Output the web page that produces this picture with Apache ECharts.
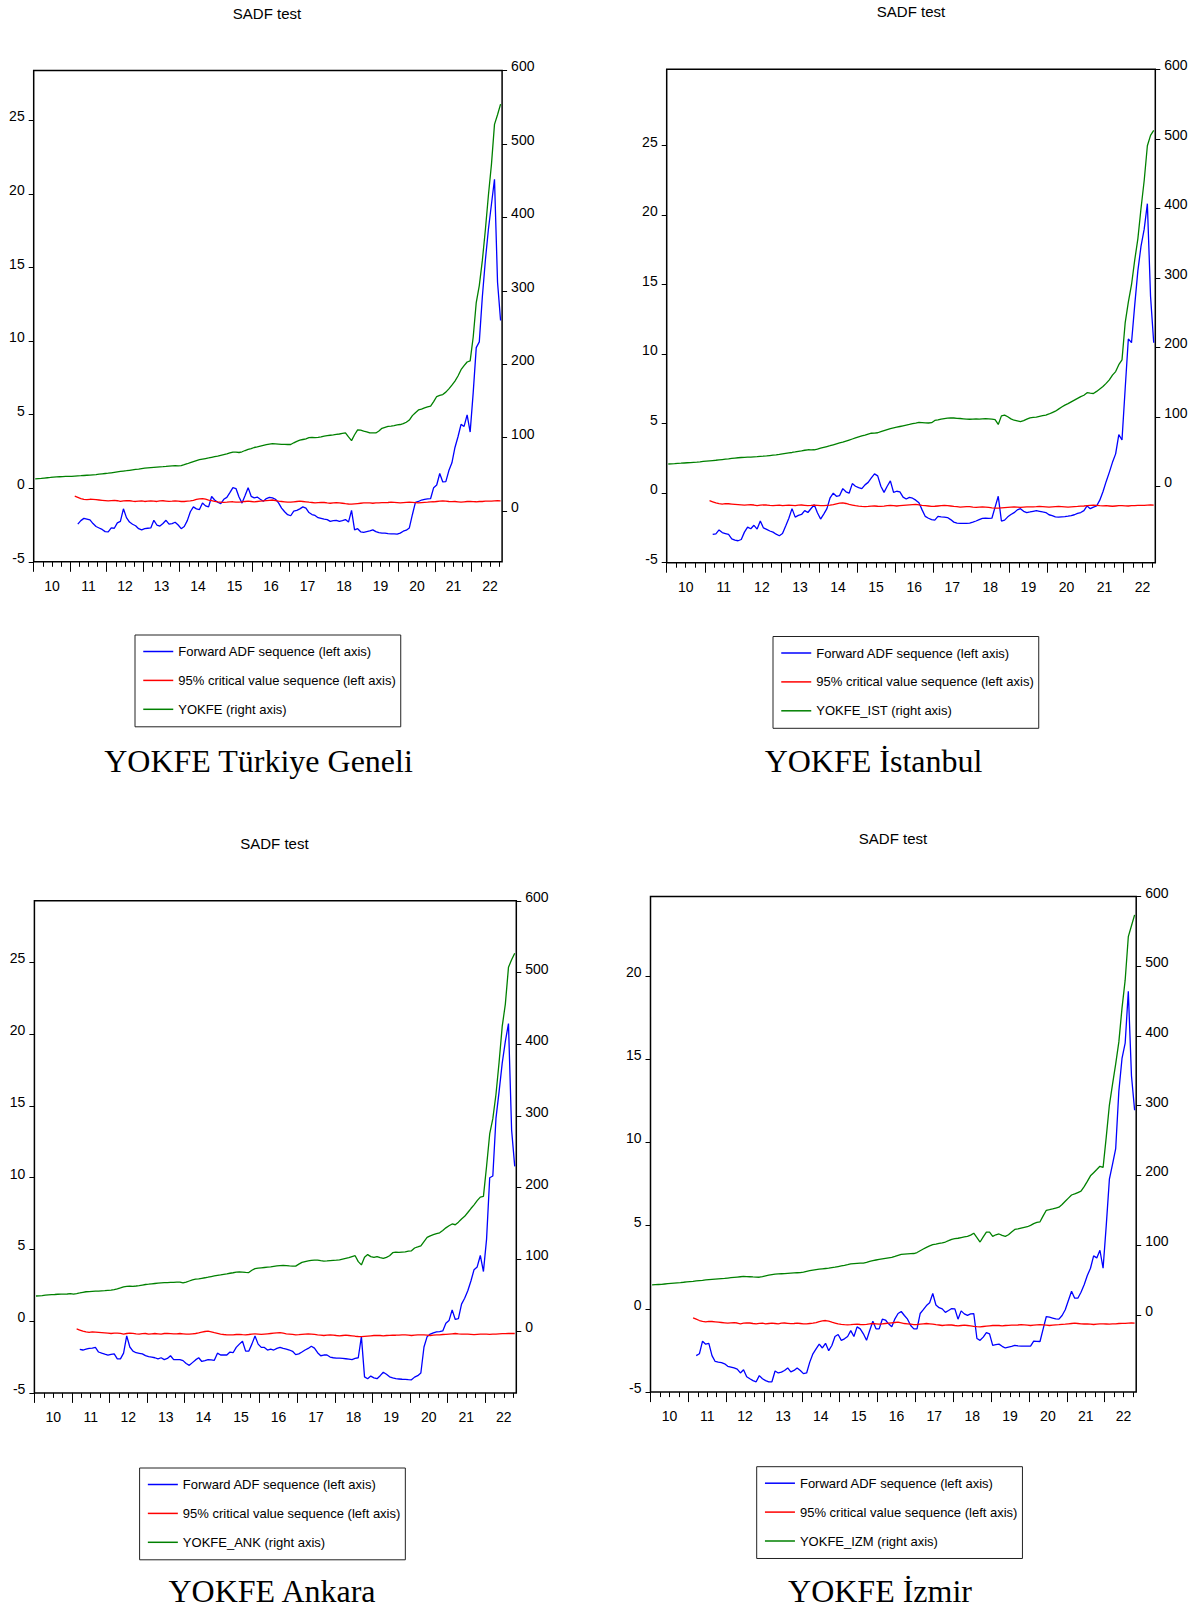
<!DOCTYPE html>
<html>
<head>
<meta charset="utf-8">
<script src="https://cdn.jsdelivr.net/npm/echarts@6/dist/echarts.min.js"></script>
<style>html,body{margin:0;padding:0;background:#fff}#chart{width:1202px;height:1609px}</style>
</head>
<body>
<div id="chart"></div>
<script>
// ---- time frame: monthly, 2010M01 .. 2022M10 (154 months) ----
const firstYear = 2010;
const nMonths = 154;
const yearLabels = ['10','11','12','13','14','15','16','17','18','19','20','21','22'];
const leftTicks = [-5, 0, 5, 10, 15, 20, 25];
const leftTicksIzm = [-5, 0, 5, 10, 15, 20];
const rightTicks = [0, 100, 200, 300, 400, 500, 600];
const adfStart = 14;  // first Forward ADF value: 2011M03
const cvStart = 13;   // first critical value: 2011M02

// 95% critical value sequence (same in all four panels)
const cv95 = [
 -0.54,-0.62,-0.7,-0.75,-0.78,-0.75,-0.76,-0.78,-0.8,-0.82,
 -0.84,-0.86,-0.84,-0.83,-0.85,-0.9,-0.86,-0.84,-0.85,-0.88,
 -0.9,-0.87,-0.86,-0.9,-0.88,-0.86,-0.88,-0.9,-0.86,-0.85,
 -0.87,-0.89,-0.88,-0.86,-0.88,-0.9,-0.9,-0.88,-0.86,-0.82,
 -0.76,-0.72,-0.7,-0.74,-0.8,-0.85,-0.9,-0.93,-0.95,-0.96,
 -0.95,-0.93,-0.92,-0.94,-0.95,-0.93,-0.9,-0.88,-0.9,-0.92,
 -0.9,-0.88,-0.86,-0.84,-0.82,-0.8,-0.84,-0.88,-0.9,-0.92,
 -0.95,-0.94,-0.92,-0.9,-0.88,-0.9,-0.92,-0.95,-0.97,-1.0,
 -0.98,-0.96,-0.97,-1.0,-1.02,-1.0,-0.98,-1.0,-1.02,-1.05,
 -1.07,-1.08,-1.06,-1.04,-1.02,-1.0,-0.99,-1.0,-1.02,-1.0,
 -0.99,-0.98,-0.98,-0.97,-0.95,-0.96,-0.98,-1.0,-0.98,-0.96,
 -0.95,-0.96,-0.98,-1.0,-0.98,-0.96,-0.95,-0.93,-0.92,-0.9,
 -0.88,-0.86,-0.88,-0.9,-0.91,-0.9,-0.92,-0.94,-0.92,-0.9,
 -0.9,-0.91,-0.92,-0.9,-0.9,-0.88,-0.87,-0.87,-0.86,-0.85,
 -0.86
];

// ---- Türkiye Geneli ----
const yokfeTR = [
 44,44.3,44.6,45,45.4,45.8,46.4,46.6,46.8,47,
 47.2,47.3,47.4,47.7,48,48.2,48.5,48.8,49,49.4,
 49.8,50.3,50.8,51.2,51.6,52.2,52.8,53.4,54,54.5,
 55,55.6,56.2,56.8,57.3,57.9,58.4,58.8,59.2,59.6,
 60,60.3,60.5,60.8,61.2,61.5,61.8,61.5,62,63.2,
 64.5,66,67.4,68.8,70,70.8,71.6,72.4,73.3,74.2,
 75,76,77,78,79.2,80.3,80.3,79.8,80.8,82.5,
 84,85,86.6,87.5,88.5,89.5,90.5,91.3,91.8,91.6,
 91.3,91,90.8,90.7,90.7,93,95,96.5,97.5,98.5,
 100,100.3,100.1,100.5,101,102,102.8,103.3,103.8,104.4,
 105,105.8,106.4,101,96,104,110.6,110.3,109,108,
 106.4,106.5,106.4,109,112.7,114,115.3,115.8,116.5,117.3,
 117.9,119,121,124,130,134,137.7,139,140.5,141.8,
 143,149,156,157.5,158.6,162,166.4,171.5,177,184,
 192.5,198,203,204.5,237,284,307,341,383,430,
 472,526.5,539.6,554
];
const adfTR = [
 -2.44,-2.2,-2.05,-2.1,-2.15,-2.4,-2.6,-2.7,-2.8,-2.95,
 -2.96,-2.7,-2.72,-2.35,-2.25,-1.4,-2.0,-2.3,-2.45,-2.55,
 -2.75,-2.83,-2.75,-2.72,-2.7,-2.18,-2.5,-2.57,-2.4,-2.18,
 -2.44,-2.4,-2.31,-2.5,-2.75,-2.6,-2.2,-1.6,-1.27,-1.4,
 -1.45,-1.01,-1.2,-1.27,-0.56,-0.8,-0.95,-1.05,-0.75,-0.62,
 -0.3,0.04,-0.02,-0.6,-1.01,-0.5,0.04,-0.55,-0.65,-0.6,
 -0.75,-0.88,-0.7,-0.62,-0.65,-0.75,-1.0,-1.35,-1.6,-1.8,
 -1.87,-1.55,-1.5,-1.4,-1.27,-1.35,-1.65,-1.79,-1.85,-2.0,
 -2.05,-2.1,-2.13,-2.25,-2.2,-2.18,-2.25,-2.2,-2.13,-2.3,
 -1.5,-2.83,-2.75,-2.96,-3.0,-2.95,-2.9,-2.83,-2.95,-3.02,
 -3.05,-3.05,-3.08,-3.1,-3.1,-3.12,-3.05,-2.92,-2.85,-2.7,
 -1.8,-0.96,-0.9,-0.8,-0.75,-0.72,-0.7,0.04,0.22,1.0,
 0.43,0.45,1.2,1.73,2.77,3.5,4.34,4.2,4.99,3.82,
 6.5,9.56,9.95,13.0,15.5,17.6,19.3,21.0,14.0,11.4
];

// ---- İstanbul ----
const yokfeIST = [
 32,32.3,32.6,33,33.2,33.5,33.8,34.1,34.5,34.8,
 35.2,35.7,36.2,36.6,37,37.4,37.9,38.4,38.9,39.4,
 40,40.5,41,41.4,41.6,41.8,42,42.3,42.6,43,
 43.3,43.7,44.2,44.7,45.2,45.8,46.5,47.2,47.9,48.6,
 49.4,50.3,51,51.8,52.5,52.3,52.5,53.5,54.8,56,
 57.2,58.4,59.7,61,62.3,63.5,65,66.5,68,69.5,
 71,72.5,73.6,75,76.3,76.5,77,78.5,80,81.5,
 83,84,85,86,87,88,89,90.2,91,91.9,
 91.7,91.3,91,91.5,94.7,95.5,96.5,97.3,98,98.5,
 98.2,97.8,97.5,97,96.5,96.4,96.5,96.8,96.5,97,
 97.2,96.9,96.5,95.8,89,101.3,102.4,100,97,95,
 94,93,94.5,96.5,98.5,99,99.5,100.5,101.5,102.4,
 104,106,108,111,114,116.8,119,121.5,124,126.5,
 129,131,134.6,134,133.5,136.5,140,143.5,148,153,
 160,165,175,181.7,235,265,290,325,356,400,
 440,490,505,512
];
const adfIST = [
 -2.97,-2.92,-2.64,-2.83,-2.9,-2.97,-3.28,-3.38,-3.42,-3.33,
 -2.8,-2.44,-2.56,-2.31,-2.58,-2.0,-2.5,-2.6,-2.72,-2.8,
 -2.95,-3.06,-2.9,-2.36,-1.8,-1.11,-1.72,-1.6,-1.53,-1.25,
 -1.39,-1.1,-0.83,-1.4,-1.86,-1.5,-1.11,-0.33,0.0,-0.22,
 -0.17,0.33,0.1,0.0,0.69,0.5,0.4,0.33,0.6,0.78,
 1.1,1.39,1.25,0.5,0.06,0.5,0.89,0.06,0.14,0.1,
 -0.28,-0.42,-0.3,-0.36,-0.5,-0.69,-1.2,-1.67,-1.8,-1.9,
 -1.94,-1.67,-1.7,-1.72,-1.75,-1.9,-2.08,-2.15,-2.17,-2.17,
 -2.17,-2.15,-2.08,-2.0,-1.9,-1.81,-1.8,-1.81,-1.8,-1.0,
 -0.22,-2.0,-1.94,-1.7,-1.53,-1.4,-1.2,-1.11,-1.3,-1.39,
 -1.35,-1.3,-1.25,-1.3,-1.35,-1.39,-1.55,-1.61,-1.7,-1.72,
 -1.7,-1.68,-1.65,-1.61,-1.55,-1.45,-1.39,-1.25,-0.92,-1.11,
 -1.0,-0.92,-0.5,0.1,0.83,1.5,2.22,2.83,4.22,3.83,
 7.5,11.1,10.83,13.5,16.0,17.78,19.0,20.83,14.17,10.83
];

// ---- Ankara ----
const yokfeANK = [
 49.1,49.3,49.6,50.3,50.7,51,51.2,51.5,51.8,51.6,
 51.9,52.3,51.8,52.5,53.3,54.2,55,55.3,55.6,55.8,
 56,56.3,56.6,57,57.3,58,59,60.3,61.7,62.5,
 62.8,62.6,63,63.5,64.3,65.1,65.5,66,66.5,67,
 67.3,67.6,67.8,68,68.2,68.4,68.3,67.5,68.5,70,
 71.5,72.5,73.1,73.8,74.5,75.3,76.2,77,77.8,78.5,
 79.3,80,80.8,81.5,82.3,82.7,82.5,82,81.8,85,
 87.2,87.8,88.3,88.8,89.3,89.8,90.5,91,91.5,91.8,
 91.5,91,90.8,90.8,93.5,96,97,98,98.8,99.2,
 99,98.3,97.7,98,98.5,98.8,99,99.5,100.5,101.5,
 102.5,104,105.2,97,92.4,103,106.8,104,103,104.1,
 102.5,101.4,103,105.2,109.4,110.2,110,110.3,110.5,111.5,
 112.1,116,117.5,119.1,125,130.8,133,134.5,136,137.2,
 140.5,144.1,147,149.5,148.4,152,156.5,160.2,165.5,171,
 176.2,182,186.9,188,230,275,296.3,330,375,425,
 456,507.2,517.9,527
];
const adfANK = [
 -1.96,-2.01,-1.95,-1.9,-1.88,-1.83,-2.15,-2.23,-2.3,-2.36,
 -2.32,-2.28,-2.63,-2.63,-2.23,-1.03,-1.8,-2.09,-2.2,-2.24,
 -2.28,-2.4,-2.47,-2.5,-2.55,-2.63,-2.55,-2.68,-2.6,-2.41,
 -2.68,-2.68,-2.68,-2.75,-2.95,-3.08,-2.89,-2.7,-2.55,-2.81,
 -2.75,-2.68,-2.7,-2.73,-2.23,-2.36,-2.36,-2.36,-2.15,-2.2,
 -1.83,-1.6,-1.4,-2.09,-2.09,-1.6,-1.03,-1.6,-1.83,-1.83,
 -2.01,-1.95,-2.01,-1.9,-1.83,-1.9,-1.95,-2.01,-2.1,-2.33,
 -2.28,-2.15,-2.01,-1.9,-1.75,-1.88,-2.2,-2.41,-2.36,-2.36,
 -2.5,-2.55,-2.57,-2.58,-2.6,-2.62,-2.65,-2.68,-2.6,-2.55,
 -1.08,-3.88,-4.01,-3.83,-3.95,-4.01,-3.8,-3.56,-3.7,-3.88,
 -3.95,-4.01,-4.03,-4.05,-4.06,-4.08,-4.09,-3.9,-3.8,-3.61,
 -1.8,-1.08,-0.9,-0.81,-0.75,-0.73,-0.68,-0.15,0.04,0.79,
 0.12,0.17,1.19,1.6,2.12,2.8,3.59,3.78,4.58,3.46,
 5.72,10.0,10.12,14.13,16.0,17.99,19.5,20.74,13.32,10.79
];

// ---- İzmir ----
const yokfeIZM = [
 43.1,43.4,43.7,44,44.4,44.8,45.2,45.6,46,46.4,
 46.9,47.5,47.9,48.3,48.8,49.3,49.7,50.2,50.6,51,
 51.4,51.8,52.1,52.4,52.9,53.4,53.9,54.4,54.8,55.2,
 55,54.8,54.5,54.3,54.1,55,56,57,57.8,58.5,
 58.8,59.1,59.4,59.7,60,60.3,60.5,60.7,61.5,62.5,
 63.5,64.4,65.1,65.6,66.1,66.6,67.1,67.8,68.5,69.4,
 70.3,71.2,72.2,73.3,73.6,73.9,74.2,74.4,75.5,76.8,
 78,78.8,79.6,80.4,81.2,82,82.6,84,85.5,87,
 87.3,87.6,87.9,88.1,89.5,92,94.5,97,99,100.7,
 101.5,102.5,103.5,104.6,106.5,108.5,109.5,110,111,112,
 112.8,114.5,117.2,111,104.6,112,118.8,118.8,112.8,115,
 116.1,114,112.8,115,119,122.7,123.5,124.5,125.5,126.5,
 128.5,131,132.6,133.6,142,150.1,151,152,153.3,154.5,
 158.5,163,167.5,172,173.5,175.5,177.5,184,191.5,199.5,
 204,208.5,213.2,211.5,255,301,331.1,360,391.5,440,
 480,542.4,558,573.6
];
const adfIZM = [
 -2.81,-2.7,-1.94,-2.12,-2.07,-2.81,-3.16,-3.2,-3.23,-3.3,
 -3.45,-3.5,-3.55,-3.62,-3.85,-3.66,-4.08,-4.2,-4.31,-4.38,
 -4.01,-4.2,-4.31,-4.38,-4.38,-3.73,-3.85,-3.8,-3.7,-3.55,
 -3.78,-3.7,-3.55,-3.7,-3.89,-3.85,-3.2,-2.7,-2.4,-2.12,
 -2.35,-2.07,-2.51,-2.2,-1.66,-1.54,-1.89,-1.8,-1.66,-1.31,
 -1.66,-1.08,-1.2,-1.5,-1.89,-1.3,-0.74,-1.2,-1.2,-0.62,
 -0.67,-0.9,-1.08,-0.6,-0.28,-0.16,-0.4,-0.62,-1.0,-1.2,
 -1.2,-0.28,-0.05,0.2,0.37,0.92,0.23,0.07,0.0,-0.21,
 -0.1,0.02,0.0,-0.62,-0.12,-0.3,-0.39,-0.3,-0.28,-1.78,
 -1.89,-1.7,-1.43,-1.5,-2.19,-2.15,-2.12,-2.25,-2.35,-2.3,
 -2.25,-2.19,-2.22,-2.24,-2.24,-2.24,-2.24,-1.94,-1.95,-1.96,
 -1.2,-0.46,-0.5,-0.55,-0.6,-0.62,-0.4,-0.05,0.5,1.06,
 0.64,0.64,1.0,1.45,2.0,2.44,3.18,3.06,3.52,2.44,
 5.0,7.79,8.7,9.63,13.08,15.04,15.96,19.07,14.0,11.93
];

const nameADF = 'Forward ADF sequence (left axis)';
const nameCV = '95% critical value sequence (left axis)';

// ---- layout / style ----
const SANS = "'Liberation Sans', Arial, Helvetica, sans-serif";
const SERIF = "'Liberation Serif','Times New Roman',serif";
const panels = [
  {green: yokfeTR, adf: adfTR, gname: 'YOKFE (right axis)', leftMax: 28.4, rightMin: -69, lticks: leftTicks,
   grid: {left: 33.7, top: 70.4, width: 468.4, height: 491.4}, legend: {left: 135, top: 635},
   title: [267, 13.4], sub: ['YOKFE Türkiye Geneli', 258.5, 761]},
  {green: yokfeIST, adf: adfIST, gname: 'YOKFE_IST (right axis)', leftMax: 30.5, rightMin: -110, lticks: leftTicks,
   grid: {left: 666.7, top: 69.3, width: 488.6, height: 493.4}, legend: {left: 773, top: 636.5},
   title: [911, 11.5], sub: ['YOKFE İstanbul', 873.5, 761]},
  {green: yokfeANK, adf: adfANK, gname: 'YOKFE_ANK (right axis)', leftMax: 29.3, rightMin: -86, lticks: leftTicks,
   grid: {left: 34.4, top: 900.8, width: 481.9, height: 492.1}, legend: {left: 139.6, top: 1468},
   title: [274.4, 843], sub: ['YOKFE Ankara', 272, 1591]},
  {green: yokfeIZM, adf: adfIZM, gname: 'YOKFE_IZM (right axis)', leftMax: 24.77, rightMin: -110.6, lticks: leftTicksIzm,
   grid: {left: 650.5, top: 896.5, width: 485.7, height: 495.6}, legend: {left: 756.7, top: 1466.7},
   title: [893, 838], sub: ['YOKFE İzmir', 880, 1591]}
];

const quarterTicks = [];
for (let m = 0; m < nMonths; m += 3) quarterTicks.push(m - 0.5);
const yearTicks = [];
const labelPos = [];
for (let y = 0; y < yearLabels.length; y++) { yearTicks.push(12 * y - 0.5); labelPos.push(12 * y + 5.5); }

const axisFont = {color: '#000', fontSize: 14, fontFamily: SANS};
const tickLine = {color: '#000', width: 1};
const noLine = {show: false, onZero: false};

const option = {
  animation: false,
  backgroundColor: '#fff',
  grid: [], xAxis: [], yAxis: [], series: [], legend: [], graphic: []
};

panels.forEach((p, k) => {
  option.grid.push(Object.assign({show: true, borderColor: '#000', borderWidth: 1.5, backgroundColor: 'transparent'}, p.grid));
  option.xAxis.push({
    gridIndex: k, type: 'value', position: 'bottom', min: -0.5, max: nMonths - 0.5,
    axisLine: noLine, splitLine: {show: false},
    axisTick: {show: true, length: 5, customValues: quarterTicks, lineStyle: tickLine},
    axisLabel: Object.assign({show: true, customValues: labelPos, margin: 17,
      formatter: v => yearLabels[Math.round((v - 5.5) / 12)]}, axisFont)
  });
  option.xAxis.push({
    gridIndex: k, type: 'value', position: 'bottom', min: -0.5, max: nMonths - 0.5,
    axisLine: noLine, splitLine: {show: false},
    axisTick: {show: true, length: 10, customValues: yearTicks, lineStyle: tickLine},
    axisLabel: {show: false}
  });
  option.yAxis.push({
    gridIndex: k, type: 'value', position: 'left', min: -5, max: p.leftMax,
    axisLine: noLine, splitLine: {show: false},
    axisTick: {show: true, length: 5, customValues: p.lticks, lineStyle: tickLine},
    axisLabel: Object.assign({show: true, customValues: p.lticks, margin: 9,
      verticalAlign: 'bottom', lineHeight: 8}, axisFont)
  });
  option.yAxis.push({
    gridIndex: k, type: 'value', position: 'right', min: p.rightMin, max: 600,
    axisLine: noLine, splitLine: {show: false},
    axisTick: {show: true, length: 5, customValues: rightTicks, lineStyle: tickLine},
    axisLabel: Object.assign({show: true, customValues: rightTicks, margin: 9,
      verticalAlign: 'bottom', lineHeight: 8}, axisFont)
  });
  const xi = 2 * k, yl = 2 * k, yr = 2 * k + 1;
  option.series.push({
    name: nameADF, type: 'line', xAxisIndex: xi, yAxisIndex: yl, symbol: 'none', silent: true,
    lineStyle: {color: '#0000ff', width: 1.3}, itemStyle: {color: '#0000ff'},
    data: p.adf.map((v, j) => [adfStart + j, v])
  });
  option.series.push({
    name: nameCV, type: 'line', xAxisIndex: xi, yAxisIndex: yl, symbol: 'none', silent: true,
    lineStyle: {color: '#ff0000', width: 1.3}, itemStyle: {color: '#ff0000'},
    data: cv95.map((v, j) => [cvStart + j, v])
  });
  option.series.push({
    name: p.gname, type: 'line', xAxisIndex: xi, yAxisIndex: yr, symbol: 'none', silent: true,
    lineStyle: {color: '#008000', width: 1.3}, itemStyle: {color: '#008000'},
    data: p.green.map((v, j) => [j, v])
  });
  option.legend.push({
    orient: 'vertical', left: p.legend.left, top: p.legend.top,
    data: [nameADF, nameCV, p.gname], selectedMode: false,
    borderColor: '#222', borderWidth: 1, padding: [10, 5, 11, 7.5],
    itemWidth: 30, itemHeight: 14, itemGap: 15.9,
    itemStyle: {opacity: 0, borderWidth: 0},
    lineStyle: {width: 1.5},
    textStyle: {color: '#000', fontSize: 13, fontFamily: SANS}
  });
  option.graphic.push({
    type: 'text', x: p.title[0], y: p.title[1], silent: true,
    style: {text: 'SADF test', fill: '#000', font: '15px ' + SANS,
      align: 'center', verticalAlign: 'middle', textAlign: 'center', textVerticalAlign: 'middle'}
  });
  option.graphic.push({
    type: 'text', x: p.sub[1], y: p.sub[2], silent: true,
    style: {text: p.sub[0], fill: '#000', font: '32px ' + SERIF,
      align: 'center', verticalAlign: 'middle', textAlign: 'center', textVerticalAlign: 'middle'}
  });
});

const chart = echarts.init(document.getElementById('chart'), null, {renderer: 'svg', width: 1202, height: 1609});
chart.setOption(option);
</script>
</body>
</html>
